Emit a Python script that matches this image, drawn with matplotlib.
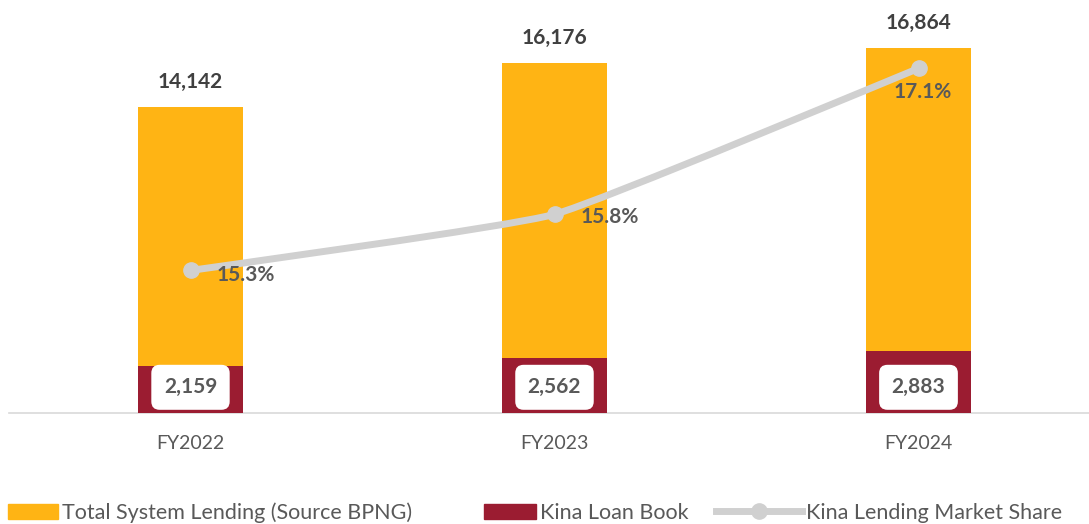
import numpy as np
import matplotlib
matplotlib.use('Agg')
import matplotlib.pyplot as plt
from matplotlib.path import Path
from matplotlib.patches import PathPatch, Patch
from matplotlib.lines import Line2D

plt.rcParams['font.family'] = ['Lato', 'DejaVu Sans']

# data
years = ['FY2022', 'FY2023', 'FY2024']
total_lending = [14142, 16176, 16864]
kina_loans = [2159, 2562, 2883]
market_share = [15.3, 15.8, 17.1]

orange = '#FFB414'
red = '#9B1C31'
grey_line = '#D0D0D0'
dark_txt = '#404040'
mid_txt = '#595959'

fig = plt.figure(figsize=(10.89, 5.24), dpi=100)
ax = fig.add_axes([8.5/1089, 111/524, 1092/1089, 389.5/524])
ax2 = ax.twinx()

x = np.arange(len(years))
bw = 0.288
ax.bar(x, total_lending, width=bw, color=orange, zorder=2)
ax.bar(x, kina_loans, width=bw, color=red, zorder=3)

ax.set_xlim(-0.5, 2.5)
ax.set_ylim(0, 18000)
ax2.set_ylim(14.03, 17.50)

for i, v in enumerate(total_lending):
    ax.annotate(f'{v:,}', (x[i], v), xytext=(0, 18), textcoords='offset points',
                ha='center', va='center', fontsize=15, fontweight='bold', color=dark_txt)

for i, v in enumerate(kina_loans):
    ax.annotate(f'{v:,}', (x[i], 0), xytext=(0, 18.5), textcoords='offset points',
                ha='center', va='center', fontsize=15, fontweight='bold', color=mid_txt, zorder=5,
                bbox=dict(boxstyle='round,pad=0.6,rounding_size=0.4', fc='white', ec='none'))

# lightly smoothed line through the points
pts = np.column_stack([x, market_share]).astype(float)
ext = np.vstack([pts[0], pts, pts[-1]])
k = 16
verts = [tuple(pts[0])]
codes = [Path.MOVETO]
for i in range(len(pts) - 1):
    c1 = pts[i] + (ext[i + 2] - ext[i]) / k
    c2 = pts[i + 1] - (ext[i + 3] - ext[i + 1]) / k
    verts += [tuple(c1), tuple(c2), tuple(pts[i + 1])]
    codes += [Path.CURVE4] * 3
ax2.add_patch(PathPatch(Path(verts, codes), fc='none', ec=grey_line, lw=5,
                        capstyle='round', zorder=4))
ax2.plot(x, market_share, 'o', color=grey_line, ms=11, zorder=5)

offsets = [(40, -3), (40, -2), (3, -17)]
for i, v in enumerate(market_share):
    ax2.annotate(f'{v:.1f}%', (x[i], v), xytext=offsets[i], textcoords='offset points',
                 ha='center', va='center', fontsize=15, fontweight='bold', color=mid_txt, zorder=6)

for a in (ax, ax2):
    for s in ['top', 'right', 'left']:
        a.spines[s].set_visible(False)
    a.set_yticks([])
ax2.spines['bottom'].set_visible(False)
ax.spines['bottom'].set_color('#D9D9D9')
ax.spines['bottom'].set_linewidth(1.2)
ax.set_xticks(x)
ax.set_xticklabels(years, fontsize=14, color=mid_txt)
ax.tick_params(axis='x', length=0, pad=16)

# legend: one entry each so the handles can differ in length
entries = [
    (Patch(color=orange), 'Total System Lending (Source BPNG)', 8, 2.3),
    (Patch(color=red), 'Kina Loan Book', 484, 2.4),
    (Line2D([], [], color=grey_line, lw=5, marker='o', ms=11), 'Kina Lending Market Share', 716, 4.0),
]
for h, lab, px, hl in entries:
    leg = fig.legend([h], [lab], loc='center left', bbox_to_anchor=(px / 1089, 1 - 513 / 524),
                     frameon=False, fontsize=15.5, handlelength=hl, handleheight=0.7,
                     handletextpad=0.2, borderpad=0, borderaxespad=0)
    for t in leg.get_texts():
        t.set_color(mid_txt)

fig.savefig('out.png', dpi=100)
